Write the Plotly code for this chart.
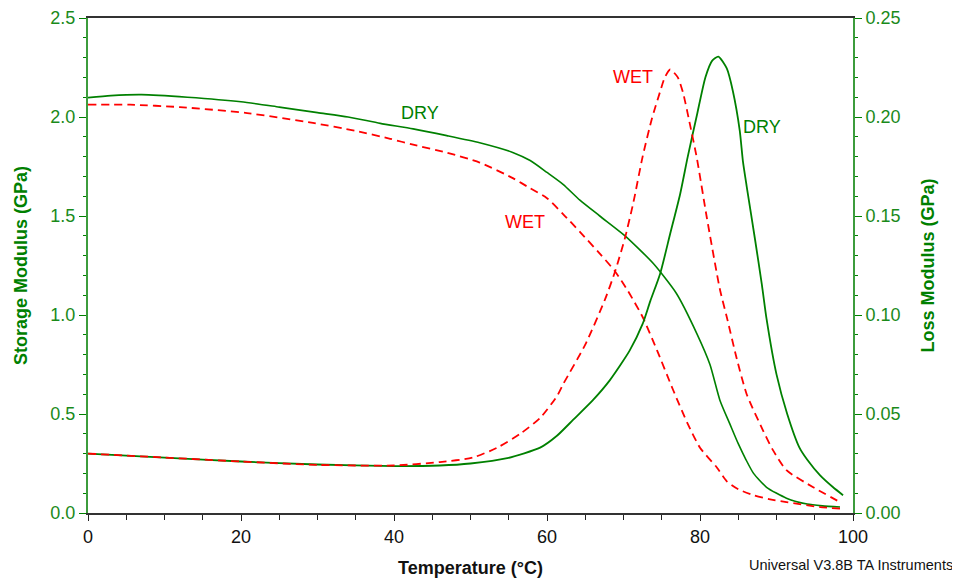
import plotly.graph_objects as go

# temperature (degC) / storage modulus (GPa)
dry_storage_t = [0, 3, 7, 13, 20, 25, 30, 34, 38.2, 42.5, 46.9, 51.2, 55.6, 57.8, 60, 62.1,
                 64.3, 66.9, 70.2, 73.9, 76.9, 79.6, 81.3, 82.6, 83.9, 85, 86, 87, 88.7, 91.3,
                 94, 96, 98.3]
dry_storage = [2.098, 2.108, 2.113, 2.10, 2.077, 2.05, 2.022, 2.00, 1.968, 1.94, 1.906, 1.87,
               1.82, 1.78, 1.72, 1.66, 1.58, 1.50, 1.40, 1.26, 1.11, 0.905, 0.75, 0.57, 0.45,
               0.35, 0.27, 0.20, 0.13, 0.075, 0.045, 0.036, 0.03]

wet_storage_t = [0, 5.5, 12, 20.8, 29.4, 35, 39.5, 42.5, 46.9, 51.2, 55.6, 57.8, 60, 62.1,
                 64.3, 66.9, 68.9, 70.6, 72.5, 74.4, 76.5, 78.4, 80, 82.2, 83.5, 85, 87, 89,
                 91.3, 95.7, 98.3]
wet_storage = [2.062, 2.062, 2.05, 2.02, 1.97, 1.93, 1.89, 1.86, 1.82, 1.77, 1.69, 1.64, 1.59,
               1.51, 1.42, 1.31, 1.22, 1.12, 0.99, 0.82, 0.62, 0.45, 0.33, 0.23, 0.16, 0.12,
               0.09, 0.07, 0.055, 0.03, 0.022]

# loss modulus (GPa)
dry_loss_t = [0, 10, 20, 30, 40, 46, 50, 54.8, 59.1, 61.3, 63.4, 66, 68.2, 70.8, 72.5, 73.5,
              74.8, 76.1, 77.4, 78.4, 79.6, 80.7, 81.6, 82.4, 83.5, 84.3, 85.2, 85.6, 86.1,
              87.2, 88.1, 88.7, 90, 91.4, 93, 94, 95.7, 97.4, 98.7]
dry_loss = [0.030, 0.028, 0.026, 0.0245, 0.0237, 0.024, 0.025, 0.0277, 0.033, 0.039, 0.047,
            0.057, 0.067, 0.082, 0.0955, 0.107, 0.121, 0.141, 0.161, 0.18, 0.201, 0.220,
            0.2285, 0.2305, 0.2245, 0.213, 0.193, 0.178, 0.165, 0.138, 0.115, 0.098, 0.070,
            0.050, 0.033, 0.027, 0.019, 0.013, 0.009]

wet_loss_t = [0, 10, 20, 30, 40, 46, 50.3, 53.5, 56.5, 59.1, 61.3, 62.1, 65, 67.6, 68.9,
              70.2, 71.3, 72.5, 73.7, 74.8, 75.4, 76.1, 77.1, 77.8, 78.7, 79.6, 80.9, 82.6,
              83.5, 84.8, 86.1, 88.2, 89.5, 91.3, 94.8, 98.3]
wet_loss = [0.030, 0.028, 0.026, 0.0243, 0.024, 0.0257, 0.028, 0.033, 0.040, 0.048, 0.059,
            0.065, 0.085, 0.108, 0.122, 0.139, 0.157, 0.180, 0.199, 0.213, 0.220, 0.224,
            0.220, 0.212, 0.196, 0.179, 0.149, 0.113, 0.099, 0.078, 0.060, 0.042, 0.032,
            0.0216, 0.013, 0.0055]

GREEN = '#008000'
AXIS_GREEN = '#3c9c3c'
RED = '#ff0000'
FONT = 'Arial, Liberation Sans, sans-serif'

fig = go.Figure()

fig.add_trace(go.Scatter(x=dry_storage_t, y=dry_storage, mode='lines',
                         line=dict(color=GREEN, width=1.6, shape='spline', smoothing=0.6)))
fig.add_trace(go.Scatter(x=wet_storage_t, y=wet_storage, mode='lines',
                         line=dict(color=RED, width=1.8, dash='8px,5px', shape='spline',
                                   smoothing=0.6)))
fig.add_trace(go.Scatter(x=dry_loss_t, y=dry_loss, mode='lines', yaxis='y2',
                         line=dict(color=GREEN, width=1.8, shape='spline', smoothing=0.6)))
fig.add_trace(go.Scatter(x=wet_loss_t, y=wet_loss, mode='lines', yaxis='y2',
                         line=dict(color=RED, width=1.8, dash='8px,5px', shape='spline',
                                   smoothing=0.6)))

labels = [('DRY', 43.4, 2.02, GREEN), ('WET', 57.1, 1.47, RED),
          ('WET', 71.2, 2.20, RED), ('DRY', 88.1, 1.95, GREEN)]
for txt, lx, ly, col in labels:
    fig.add_annotation(x=lx, y=ly, text=txt, showarrow=False,
                       font=dict(family=FONT, size=18, color=col))

fig.add_annotation(xref='paper', yref='paper', x=1.133, y=-0.105, xanchor='right',
                   yanchor='middle', text='Universal V3.8B TA Instruments', showarrow=False,
                   font=dict(family=FONT, size=14.5, color='#111111'))

# the page body adds an 8px margin, so the figure is sized 8px smaller
fig.update_layout(
    width=952, height=571,
    margin=dict(l=80, r=107, t=10, b=66),
    plot_bgcolor='white', paper_bgcolor='white',
    showlegend=False,
    font=dict(family=FONT),
    xaxis=dict(
        range=[0, 100], dtick=20, tickformat='d', automargin=False,
        showgrid=False, zeroline=False,
        showline=True, linecolor='#333333', linewidth=2, mirror=True,
        ticks='outside', ticklen=6, tickcolor='#222222',
        minor=dict(dtick=5, ticks='outside', ticklen=5, tickcolor='#222222'),
        tickfont=dict(size=18, color='#111111'),
        title=dict(text='<b>Temperature (°C)</b>', font=dict(size=18, color='#111111'),
                   standoff=16),
    ),
    yaxis=dict(
        range=[0, 2.5], dtick=0.5, tickformat='.1f', automargin=False,
        ticklabeloverflow='allow',
        showgrid=False, zeroline=False,
        showline=True, linecolor=AXIS_GREEN, linewidth=2,
        ticks='outside', ticklen=7, tickcolor=GREEN,
        minor=dict(dtick=0.1, ticks='outside', ticklen=3, tickcolor=GREEN),
        tickfont=dict(size=18, color='#1a8a1a'),
        title=dict(text='<b>Storage Modulus (GPa)</b>', font=dict(size=18, color=GREEN),
                   standoff=18),
    ),
    yaxis2=dict(
        range=[0, 0.25], dtick=0.05, tickformat='.2f', automargin=False,
        ticklabeloverflow='allow',
        overlaying='y', side='right',
        showgrid=False, zeroline=False,
        showline=True, linecolor=AXIS_GREEN, linewidth=2,
        ticks='outside', ticklen=7, tickcolor=GREEN,
        minor=dict(dtick=0.01, ticks='outside', ticklen=3, tickcolor=GREEN),
        tickfont=dict(size=18, color='#1a8a1a'),
        title=dict(text='<b>Loss Modulus (GPa)</b>', font=dict(size=18, color=GREEN),
                   standoff=22),
    ),
)

fig.write_html('out.html')
